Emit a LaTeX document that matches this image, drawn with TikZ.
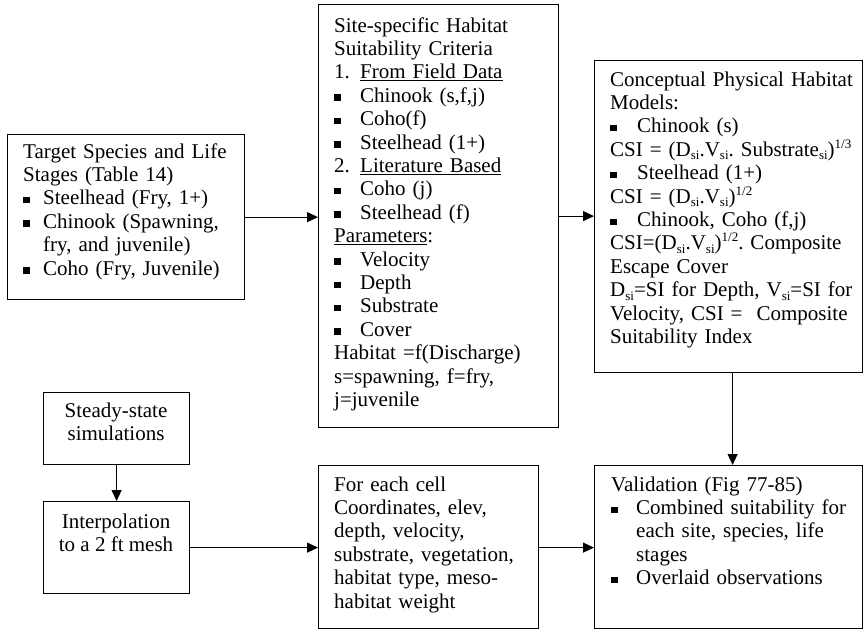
\documentclass[tikz,border=0pt]{standalone}
\usepackage{fontspec}
\setmainfont{Liberation Serif}
\usetikzlibrary{arrows.meta}
\newcommand{\bul}{\rule[1.5pt]{6.5pt}{6.5pt}}
\newcommand{\bitem}[2]{\par\noindent\makebox[#1][l]{\bul}#2}
\newcommand{\cont}[2]{\par\noindent\hspace*{#1}#2}
\newcommand{\nitem}[2]{\par\noindent\makebox[26pt][l]{#1}#2}
\newcommand{\plain}[1]{\par\noindent #1}
\newcommand{\sbs}[1]{\raisebox{-3.5pt}{\fontsize{13}{13}\selectfont #1}}
\newcommand{\sps}[1]{\raisebox{8pt}{\fontsize{13}{13}\selectfont #1}}
\newcommand{\boxfont}{\fontsize{21}{23.4}\selectfont\lineskiplimit-100pt\frenchspacing\relax}
\tikzset{
  box/.style={draw=black, line width=1.2pt, fill=none, inner sep=0pt, anchor=north west},
  txt/.style={anchor=north west, inner sep=0pt, text width=#1, align=left, font=\boxfont},
  ctxt/.style={anchor=north, inner sep=0pt, align=center, font=\boxfont},
  arr/.style={line width=1.2pt, -{Triangle[length=11pt,width=10pt]}}
}
\begin{document}
\begin{tikzpicture}[x=1pt,y=-1pt]
\useasboundingbox[fill=white] (0,0) rectangle (864,630);
% boxes
\node[box, minimum width=237pt, minimum height=165pt] (b1) at (7,134) {};
\node[box, minimum width=240pt, minimum height=423pt] (b2) at (318,4) {};
\node[box, minimum width=268pt, minimum height=312pt] (b3) at (594,60) {};
\node[box, minimum width=146pt, minimum height=72pt] (b4) at (43,392) {};
\node[box, minimum width=146pt, minimum height=92pt] (b5) at (43,501) {};
\node[box, minimum width=220pt, minimum height=163pt] (b6) at (318,465) {};
\node[box, minimum width=268pt, minimum height=163pt] (b7) at (594,465) {};
% texts
\node[txt=218pt] (t1) at (23,141.6) {\strut Target Species and Life\\ Stages (Table 14)
\bitem{20pt}{Steelhead (Fry, 1+)}
\bitem{20pt}{Chinook (Spawning,}
\cont{20pt}{fry, and juvenile)}
\bitem{20pt}{Coho (Fry, Juvenile)}};
\node[txt=222pt] (t2) at (334,15.6) {\strut Site-specific Habitat\\ Suitability Criteria
\nitem{1.}{\underline{From Field Data}}
\bitem{26pt}{Chinook (s,f,j)}
\bitem{26pt}{Coho(f)}
\bitem{26pt}{Steelhead (1+)}
\nitem{2.}{\underline{Literature Based}}
\bitem{26pt}{Coho (j)}
\bitem{26pt}{Steelhead (f)}
\plain{\underline{Parameters}:}
\bitem{26pt}{Velocity}
\bitem{26pt}{Depth}
\bitem{26pt}{Substrate}
\bitem{26pt}{Cover}
\plain{Habitat =f(Discharge)\\ s=spawning, f=fry,\\ j=juvenile}};
\node[txt=262pt] (t3) at (610,69.6) {\strut Conceptual Physical Habitat\\ Models:
\bitem{27pt}{Chinook (s)}
\plain{CSI = (D\sbs{si}.V\sbs{si}. Substrate\sbs{si})\sps{1/3}}
\bitem{27pt}{Steelhead (1+)}
\plain{CSI = (D\sbs{si}.V\sbs{si})\sps{1/2}}
\bitem{27pt}{Chinook, Coho (f,j)}
\plain{CSI=(D\sbs{si}.V\sbs{si})\sps{1/2}. Composite\\ Escape Cover\\ D\sbs{si}=SI for Depth, V\sbs{si}=SI for\\ Velocity, CSI =\ \ Composite\\ Suitability Index}};
\node[ctxt] (t4) at (116,400.6) {\strut Steady-state\\ simulations};
\node[ctxt] (t5) at (116,511.6) {\strut Interpolation\\ to a 2 ft mesh};
\node[txt=210pt] (t6) at (334,474.6) {\strut For each cell\\ Coordinates, elev,\\ depth, velocity,\\ substrate, vegetation,\\ habitat type, meso-\\ habitat weight};
\node[txt=250pt] (t7) at (611,474.6) {\strut Validation (Fig 77-85)
\bitem{25pt}{Combined suitability for}
\cont{25pt}{each site, species, life}
\cont{25pt}{stages}
\bitem{25pt}{Overlaid observations}};
% connectors
\draw[arr] (b1.east) -- (b1.east -| b2.west);
\draw[arr] (b2.east) -- (b2.east -| b3.west);
\draw[arr] ([xshift=4pt]b3.south) -- ([xshift=4pt]b3.south |- b7.north);
\draw[arr] (b4.south) -- (b5.north);
\draw[arr] (b5.east) -- (b5.east -| b6.west);
\draw[arr] (b5.east -| b6.east) -- (b5.east -| b7.west);
\end{tikzpicture}
\end{document}
